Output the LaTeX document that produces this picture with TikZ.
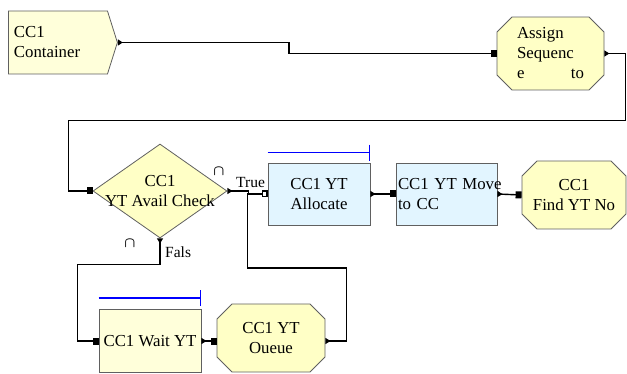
\documentclass[tikz,border=0pt]{standalone}
\usepackage{fontspec}
\setmainfont{Liberation Serif}
\usepackage{xcolor}
\definecolor{palecream}{RGB}{255,255,218}
\definecolor{paleyel}{RGB}{255,255,198}
\definecolor{paleice}{RGB}{226,245,255}
\definecolor{rimgray}{RGB}{96,96,96}
\usetikzlibrary{positioning,arrows.meta,shapes.geometric,shapes.misc,shapes.symbols}

\begin{document}
\begin{tikzpicture}[
  x=1pt, y=-1pt,
  font=\fontsize{16.8}{20}\selectfont,
  srcbox/.style={signal, signal to=east, signal pointer angle=145, draw=rimgray,
                 thick, fill=palecream, minimum width=109pt, minimum height=63pt,
                 align=left},
  octbox/.style={chamfered rectangle, chamfered rectangle xsep=7.5pt,
                 chamfered rectangle ysep=7.5pt, draw=rimgray,
                 thick, fill=paleyel, minimum width=106pt, minimum height=68pt,
                 align=center},
  taskbox/.style={rectangle, draw=rimgray, thick, fill=paleice, align=center,
                  minimum width=102pt, minimum height=62pt},
  decide/.style={diamond, draw=rimgray, thick, fill=paleyel, inner sep=0pt,
                 minimum width=134pt, minimum height=94pt, align=center},
  tag/.style={font=\fontsize{15.5}{17}\selectfont, inner sep=0pt},
  capmark/.style={font=\fontsize{14}{14}\selectfont\boldmath, inner sep=0pt},
  flow/.style={{Triangle[reversed, length=5pt, width=6pt]}-{Square[length=6pt, width=7pt]},
               line width=1.4pt},
  trueflow/.style={{Triangle[reversed, length=5pt, width=6pt]}-{Square[open, fill=white, length=6pt, width=7pt]},
                   line width=1.4pt},
  loopflow/.style={{Triangle[reversed, length=5pt, width=6pt]}-, line width=1.4pt},
  resbar/.style={blue, line width=1.3pt, -{Bar[width=16pt]}},
]
\useasboundingbox (0,0) rectangle (627,374);

% --- top row ---
\node[srcbox, anchor=west, text width=88pt] (cont) at (8,42.5) {CC1\\Container};
\node[octbox, minimum width=107pt, minimum height=69pt, text width=67pt, align=left]
  (assign) at (550.5,53.5) {Assign\\Sequenc\\e\hfill to};

% --- middle row ---
\node[decide] (check) at (160,191) {\makebox[0pt]{CC1}\\\makebox[0pt]{YT Avail Check}};
\node[taskbox] (alloc) at (319,194) {CC1 YT\\Allocate};
\node[taskbox, minimum width=101pt, text width=97pt, inner xsep=2pt, align=left]
  (move) at (446.5,194) {\mbox{CC1 YT Move}\\to CC};
\node[octbox, minimum width=104pt] (find) at (574,195) {CC1\\Find YT No};

% --- bottom row ---
\node[taskbox, fill=palecream, minimum height=63pt] (wait) at (150,341) {CC1 Wait YT};
\node[octbox, minimum width=108pt] (queue) at (271,338) {CC1 YT\\Oueue};

% --- labels ---
\node[tag, anchor=base west] (truelbl) at (236,188) {True};
\node[tag, anchor=base west] (falslbl) at (165,258) {Fals};
\node[capmark] (capa) at (219,172) {$\cap$};
\node[capmark] (capb) at (130,244) {$\cap$};

% --- connectors ---
\draw[flow] (cont.east) -- ++(171,0) |- (assign.west);
\draw[flow] (assign.east) -- ++(21,0) -- ++(0,67) -| ([xshift=-24pt]check.west) -- (check.west);
\draw[loopflow] ([yshift=-3pt]queue.east) -- ++(21,0) -- ++(0,-73)
  -| ([xshift=-20pt]alloc.west) -- (alloc.west);
\draw[trueflow] (check.east) -- ++(21,0) |- (alloc.west);
\draw[flow] (alloc.east) -- (move.west);
\draw[flow] (move.east) -- (find.west);
\draw[flow] (check.south) -- ++(0,26) -| ([xshift=-21pt]wait.west) -- (wait.west);
\draw[flow] (wait.east) -- (queue.west |- wait.east);

% --- resource bars ---
\draw[resbar] ([yshift=10pt]alloc.north west) -- ([yshift=10pt]alloc.north east);
\draw[resbar] ([yshift=11pt]wait.north west) -- ([yshift=11pt]wait.north east);
\end{tikzpicture}
\end{document}
